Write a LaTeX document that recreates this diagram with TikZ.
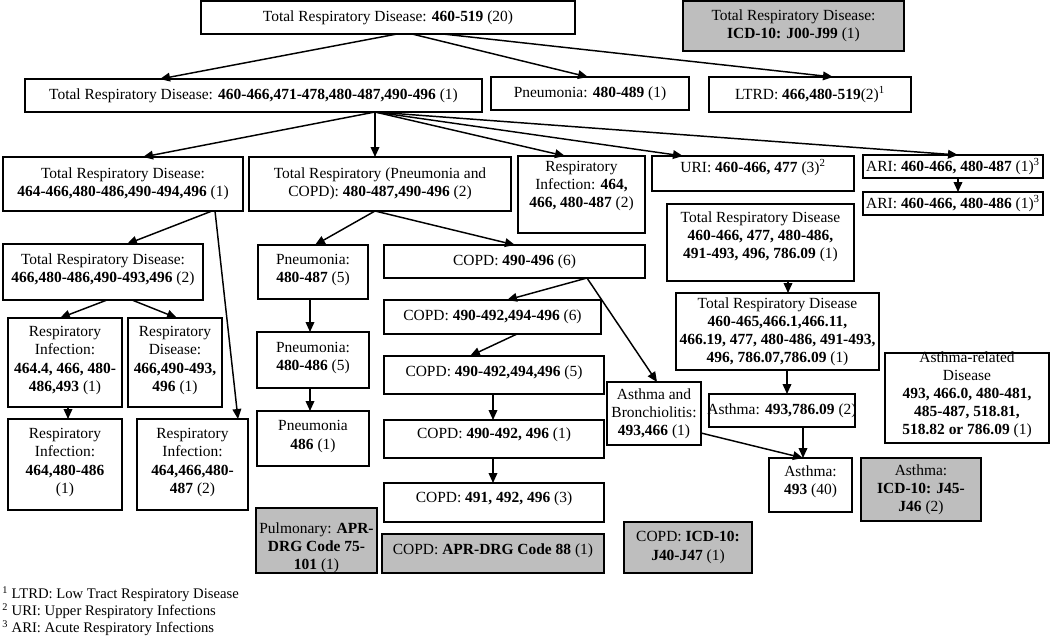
\documentclass[tikz,border=0pt]{standalone}
\usepackage{fontspec}
\setmainfont{Liberation Serif}
\usetikzlibrary{arrows.meta}
\definecolor{boxgray}{RGB}{190,190,190}
\tikzset{
  box/.style={draw=black,line width=1.3pt,fill=white,inner sep=0pt,outer sep=0pt},
  graybox/.style={fill=boxgray},
  txt/.style={align=center,inner sep=0pt,font=\fontsize{11.6}{13.6}\selectfont},
  arr/.style={line width=1.1pt,-{Triangle[length=7.5pt,width=6.5pt]}},
}
\newcommand\bx[8][0]{%
  \node[box,#7,minimum width={(#5-#3)*0.75pt},minimum height={(#6-#4)*0.75pt}] (#2) at ({(#3+#5)/2},{(#4+#6)/2}) {};
  \node[txt,yshift=#1*0.75pt] (#2t) at (#2.center) {#8};
}
\begin{document}
\begin{tikzpicture}[x=0.75pt,y=-0.75pt]
\useasboundingbox (0,0) rectangle (1050,636);
\bx{top}{201}{1}{575}{34}{}{Total Respiratory Disease: \textbf{460-519} (20)}
\bx{icd}{683}{1}{904}{51}{graybox}{Total Respiratory Disease:\\ \textbf{ICD-10: J00-J99} (1)}
\bx{r2}{25}{79}{482}{112}{}{Total Respiratory Disease: \textbf{460-466,471-478,480-487,490-496} (1)}
\bx{pn}{491}{77}{689}{110}{}{Pneumonia: \textbf{480-489} (1)}
\bx{ltrd}{709}{77}{911}{112}{}{LTRD: \textbf{466,480-519}(2)\textsuperscript{1}}
\bx{r3a}{3}{157}{243}{211}{}{Total Respiratory Disease:\\ \textbf{464-466,480-486,490-494,496} (1)}
\bx{pc}{249}{157}{511}{211}{}{Total Respiratory (Pneumonia and\\ COPD): \textbf{480-487,490-496} (2)}
\bx[8.5]{ri}{518}{156}{645}{233}{}{Respiratory\\ Infection: \textbf{464,}\\ \textbf{466, 480-487} (2)}
\bx[6]{uri}{652}{156}{854}{191}{}{URI: \textbf{460-466, 477} (3)\textsuperscript{2}}
\bx{ari1}{863}{155}{1043}{178}{}{ARI: \textbf{460-466, 480-487} (1)\textsuperscript{3}}
\bx{ari2}{863}{192}{1043}{215}{}{ARI: \textbf{460-466, 480-486} (1)\textsuperscript{3}}
\bx[5.5]{trd1}{667}{204}{854}{281}{}{Total Respiratory Disease\\ \textbf{460-466, 477, 480-486,}\\ \textbf{491-493, 496, 786.09} (1)}
\bx{trd2}{676}{293}{879}{370}{}{Total Respiratory Disease\\ \textbf{460-465,466.1,466.11,}\\ \textbf{466.19, 477, 480-486, 491-493,}\\ \textbf{496, 786.07,786.09} (1)}
\bx{ast2}{709}{394}{855}{427}{}{Asthma: \textbf{493,786.09} (2)}
\bx[3]{ast}{769}{458}{852}{512}{}{Asthma:\\ \textbf{493} (40)}
\bx{asticd}{861}{458}{981}{521}{graybox}{Asthma:\\ \textbf{ICD-10: J45-}\\ \textbf{J46} (2)}
\bx[3]{ard}{885}{353}{1049}{443}{}{Asthma-related\\ Disease\\ \textbf{493, 466.0, 480-481,}\\ \textbf{485-487, 518.81,}\\ \textbf{518.82 or 786.09} (1)}
\bx{ab}{607}{382}{701}{445}{}{Asthma and\\ Bronchiolitis:\\ \textbf{493,466} (1)}
\bx{c0}{384}{245}{645}{278}{}{COPD: \textbf{490-496} (6)}
\bx{c1}{384}{300}{601}{334}{}{COPD: \textbf{490-492,494-496} (6)}
\bx[2]{c2}{384}{356}{604}{394}{}{COPD: \textbf{490-492,494,496} (5)}
\bx[4]{c3}{384}{420}{604}{458}{}{COPD: \textbf{490-492, 496} (1)}
\bx[3.5]{c4}{384}{483}{604}{522}{}{COPD: \textbf{491, 492, 496} (3)}
\bx[3]{capr}{382}{534}{604}{573}{graybox}{COPD: \textbf{APR-DRG Code 88} (1)}
\bx[-7]{pul}{256}{508}{377}{573}{graybox}{Pulmonary: \textbf{APR-}\\ \textbf{DRG Code 75-}\\ \textbf{101} (1)}
\bx{cicd}{624}{522}{752}{573}{graybox}{COPD: \textbf{ICD-10:}\\ \textbf{J40-J47} (1)}
\bx[2]{p1}{258}{245}{368}{299}{}{Pneumonia:\\ \textbf{480-487} (5)}
\bx[2]{p2}{257}{332}{369}{388}{}{Pneumonia:\\ \textbf{480-486} (5)}
\bx[2]{p3}{257}{411}{369}{466}{}{Pneumonia\\ \textbf{486} (1)}
\bx[2]{r4}{3}{244}{203}{300}{}{Total Respiratory Disease:\\ \textbf{466,480-486,490-493,496} (2)}
\bx[2]{r5a}{8}{318}{122}{407}{}{Respiratory\\ Infection:\\ \textbf{464.4, 466, 480-}\\ \textbf{486,493} (1)}
\bx[2]{r5b}{128}{318}{222}{407}{}{Respiratory\\ Disease:\\ \textbf{466,490-493,}\\ \textbf{496} (1)}
\bx[2]{r6a}{8}{419}{122}{510}{}{Respiratory\\ Infection:\\ \textbf{464,480-486}\\ (1)}
\bx[2]{r6b}{137}{419}{248}{510}{}{Respiratory\\ Infection:\\ \textbf{464,466,480-}\\ \textbf{487} (2)}
% footnotes
\node[anchor=north west,align=left,inner sep=0pt,font=\fontsize{11}{12.75}\selectfont] (fn) at (2,586)
  {\textsuperscript{1} LTRD: Low Tract Respiratory Disease\\
   \textsuperscript{2} URI: Upper Respiratory Infections\\
   \textsuperscript{3} ARI: Acute Respiratory Infections};
% connectors
\draw[arr] ([xshift=196*0.75pt]top.south west) -- ([xshift=135*0.75pt]r2.north west);
\draw[arr] ([xshift=211*0.75pt]top.south west) -- ([xshift=97*0.75pt]pn.north west);
\draw[arr] ([xshift=242*0.75pt]top.south west) -- ([xshift=124*0.75pt]ltrd.north west);
\draw[arr] ([xshift=350*0.75pt]r2.south west) -- ([xshift=140*0.75pt]r3a.north west);
\draw[arr] ([xshift=350*0.75pt]r2.south west) -- ([xshift=126*0.75pt]pc.north west);
\draw[arr] ([xshift=350*0.75pt]r2.south west) -- ([xshift=47*0.75pt]ri.north west);
\draw[arr] ([xshift=350*0.75pt]r2.south west) -- ([xshift=31*0.75pt]uri.north west);
\draw[arr] ([xshift=350*0.75pt]r2.south west) -- ([xshift=95*0.75pt]ari1.north west);
\draw[arr] ([xshift=95*0.75pt]ari1.south west) -- ([xshift=95*0.75pt]ari2.north west);
\draw[arr] ([xshift=121*0.75pt]trd1.south west) -- ([xshift=112*0.75pt]trd2.north west);
\draw[arr] ([xshift=111*0.75pt]trd2.south west) -- ([xshift=78*0.75pt]ast2.north west);
\draw[arr] ([xshift=94*0.75pt]ast2.south west) -- ([xshift=34*0.75pt]ast.north west);
\draw[arr] ([yshift=12*0.75pt]ab.south east) -- ([xshift=34*0.75pt]ast.north west);
\draw[arr] ([xshift=126*0.75pt]pc.south west) -- ([xshift=57*0.75pt]p1.north west);
\draw[arr] ([xshift=126*0.75pt]pc.south west) -- ([xshift=131*0.75pt]c0.north west);
\draw[arr] ([xshift=203*0.75pt]c0.south west) -- ([xshift=123*0.75pt]c1.north west);
\draw[arr] ([xshift=203*0.75pt]c0.south west) -- ([xshift=50*0.75pt]ab.north west);
\draw[arr] ([xshift=133*0.75pt]c1.south west) -- ([xshift=86*0.75pt]c2.north west);
\draw[arr] ([xshift=109*0.75pt]c2.south west) -- ([xshift=109*0.75pt]c3.north west);
\draw[arr] ([xshift=109*0.75pt]c3.south west) -- ([xshift=109*0.75pt]c4.north west);
\draw[arr] ([xshift=52*0.75pt]p1.south west) -- ([xshift=53*0.75pt]p2.north west);
\draw[arr] ([xshift=53*0.75pt]p2.south west) -- ([xshift=53*0.75pt]p3.north west);
\draw[arr] ([xshift=209*0.75pt]r3a.south west) -- ([xshift=124*0.75pt]r4.north west);
\draw[arr] ([xshift=212*0.75pt]r3a.south west) -- ([xshift=101*0.75pt]r6b.north west);
\draw[arr] ([xshift=104*0.75pt]r4.south west) -- ([xshift=52*0.75pt]r5a.north west);
\draw[arr] ([xshift=129*0.75pt]r4.south west) -- ([xshift=49*0.75pt]r5b.north west);
\draw[arr] ([xshift=60*0.75pt]r5a.south west) -- ([xshift=60*0.75pt]r6a.north west);
\end{tikzpicture}
\end{document}
